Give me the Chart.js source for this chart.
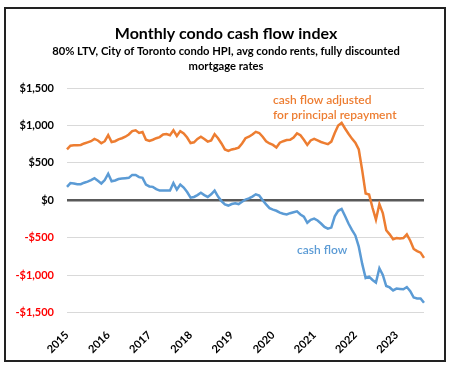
<!DOCTYPE html>
<html>
<head>
<meta charset="utf-8">
<script src="https://cdn.jsdelivr.net/npm/chart.js@4.4.1/dist/chart.umd.min.js"></script>
<style>
  html,body{margin:0;padding:0;background:#fff;}
  #wrap{position:relative;width:452px;height:368px;}
  #frame{position:absolute;left:4px;top:7px;width:438px;height:351px;border:2px solid #222;pointer-events:none;}
</style>
</head>
<body>
<div id="wrap">
  <canvas id="c" width="452" height="368"></canvas>
  <div id="frame"></div>
</div>
<script>
const yearLabels = ['2015','2016','2017','2018','2019','2020','2021','2022','2023'];
const monthNames = ['01','02','03','04','05','06','07','08','09','10','11','12'];
const cashFlow = [
  180,230,225,215,215,235,250,270,295,260,225,270,
  355,255,265,285,290,295,300,340,340,310,300,210,
  185,180,150,130,130,130,130,230,144,211,170,110,
  36,45,70,100,70,45,80,130,50,-10,-55,-70,
  -50,-40,-50,-20,10,25,50,80,65,0,-55,-105,
  -125,-140,-165,-180,-188,-172,-160,-148,-190,-219,-300,-260,
  -245,-270,-310,-355,-378,-365,-215,-140,-115,-210,-310,-395,
  -470,-620,-850,-1040,-1021,-1065,-1100,-908,-998,-1146,-1165,-1205,
  -1180,-1185,-1190,-1160,-1215,-1300,-1312,-1312,-1370
];
const adjustedCashFlow = [
  680,730,735,735,740,760,775,790,820,800,762,790,
  870,780,790,815,830,850,880,925,935,900,914,810,
  793,810,830,845,880,885,870,935,860,925,895,840,
  765,775,820,850,820,785,800,883,830,760,680,660,
  680,690,705,760,830,850,880,915,900,850,790,760,
  740,705,770,790,805,810,840,895,870,810,740,800,
  820,800,780,765,750,785,900,1000,1035,960,890,825,
  770,680,400,90,77,-100,-259,-50,-170,-400,-455,-520,
  -505,-510,-505,-455,-540,-650,-680,-700,-770
];
const titleText = 'Monthly condo cash flow index';
const subtitleLines = ['80% LTV, City of Toronto condo HPI, avg condo rents, fully discounted', 'mortgage rates'];
const annotations = [
  {lines:['cash flow adjusted','for principal repayment'], index:60, value:1344, color:'#ED7D31'},
  {lines:['cash flow'], index:67, value:-672, color:'#5B9BD5'}
];

const months = [];
yearLabels.forEach(y => monthNames.forEach(m => months.push(y + '-' + m)));
months.length = cashFlow.length;

function fmt(v){
  const s = Math.abs(v).toString().replace(/\B(?=(\d{3})+(?!\d))/g, ',');
  return (v < 0 ? '-$' : '$') + s;
}

const FONT = 'Lato, "DejaVu Sans", sans-serif';

const annotationPlugin = {
  id: 'textAnno',
  afterDatasetsDraw(chart){
    const ctx = chart.ctx, xs = chart.scales.x, ys = chart.scales.y;
    ctx.save();
    ctx.font = '600 12px ' + FONT;
    ctx.textAlign = 'left';
    ctx.textBaseline = 'middle';
    annotations.forEach(a => {
      const x = xs.getPixelForValue(a.index);
      let y = ys.getPixelForValue(a.value);
      ctx.fillStyle = a.color;
      a.lines.forEach(l => { ctx.fillText(l, x, y); y += 15; });
    });
    ctx.restore();
  }
};

new Chart(document.getElementById('c'), {
  type: 'line',
  data: {
    labels: months,
    datasets: [
      {label:'cash flow adjusted for principal repayment', data: adjustedCashFlow, borderColor:'#ED7D31', borderWidth:2.5, pointRadius:0, tension:0, fill:false},
      {label:'cash flow', data: cashFlow, borderColor:'#5B9BD5', borderWidth:2.5, pointRadius:0, tension:0, fill:false}
    ]
  },
  options: {
    responsive:false,
    animation:false,
    layout:{padding:{left:0,right:0,top:0,bottom:0}},
    plugins:{
      legend:{display:false},
      tooltip:{enabled:false},
      title:{display:true, text:titleText, color:'#000', font:{family:FONT, size:16, weight:'bold', lineHeight:1.2}, padding:{top:24,bottom:0}},
      subtitle:{display:true, text:subtitleLines, color:'#000', font:{family:FONT, size:11.2, weight:'bold', lineHeight:1.38}, padding:{top:0,bottom:14}}
    },
    scales:{
      x:{
        type:'category',
        offset:false,
        grid:{display:false},
        border:{display:false},
        afterFit(s){ s.height = 55.5; },
        ticks:{
          autoSkip:false, minRotation:45, maxRotation:45, padding:8,
          color:'#000', font:{family:FONT, size:11, weight:'bold'},
          callback(v, i){ const l = months[i]; return l.endsWith('-01') ? l.slice(0,4) : null; }
        }
      },
      y:{
        min:-1500, max:1500,
        afterFit(s){ s.width = 67; },
        border:{display:false},
        grid:{
          drawTicks:false,
          color: c => c.tick.value === 0 ? '#595959' : '#d9d9d9',
          lineWidth: c => c.tick.value === 0 ? 2.5 : 1
        },
        ticks:{
          stepSize:500, padding:13,
          color: c => c.tick.value < 0 ? '#FF0000' : '#000',
          font:{family:FONT, size:11, weight:'bold'},
          callback: v => fmt(v)
        }
      },
      yRight:{
        position:'right',
        min:-1500, max:1500,
        afterFit(s){ s.width = 28; },
        grid:{display:false},
        border:{display:false},
        ticks:{display:false}
      }
    }
  },
  plugins:[annotationPlugin]
});
</script>
</body>
</html>
